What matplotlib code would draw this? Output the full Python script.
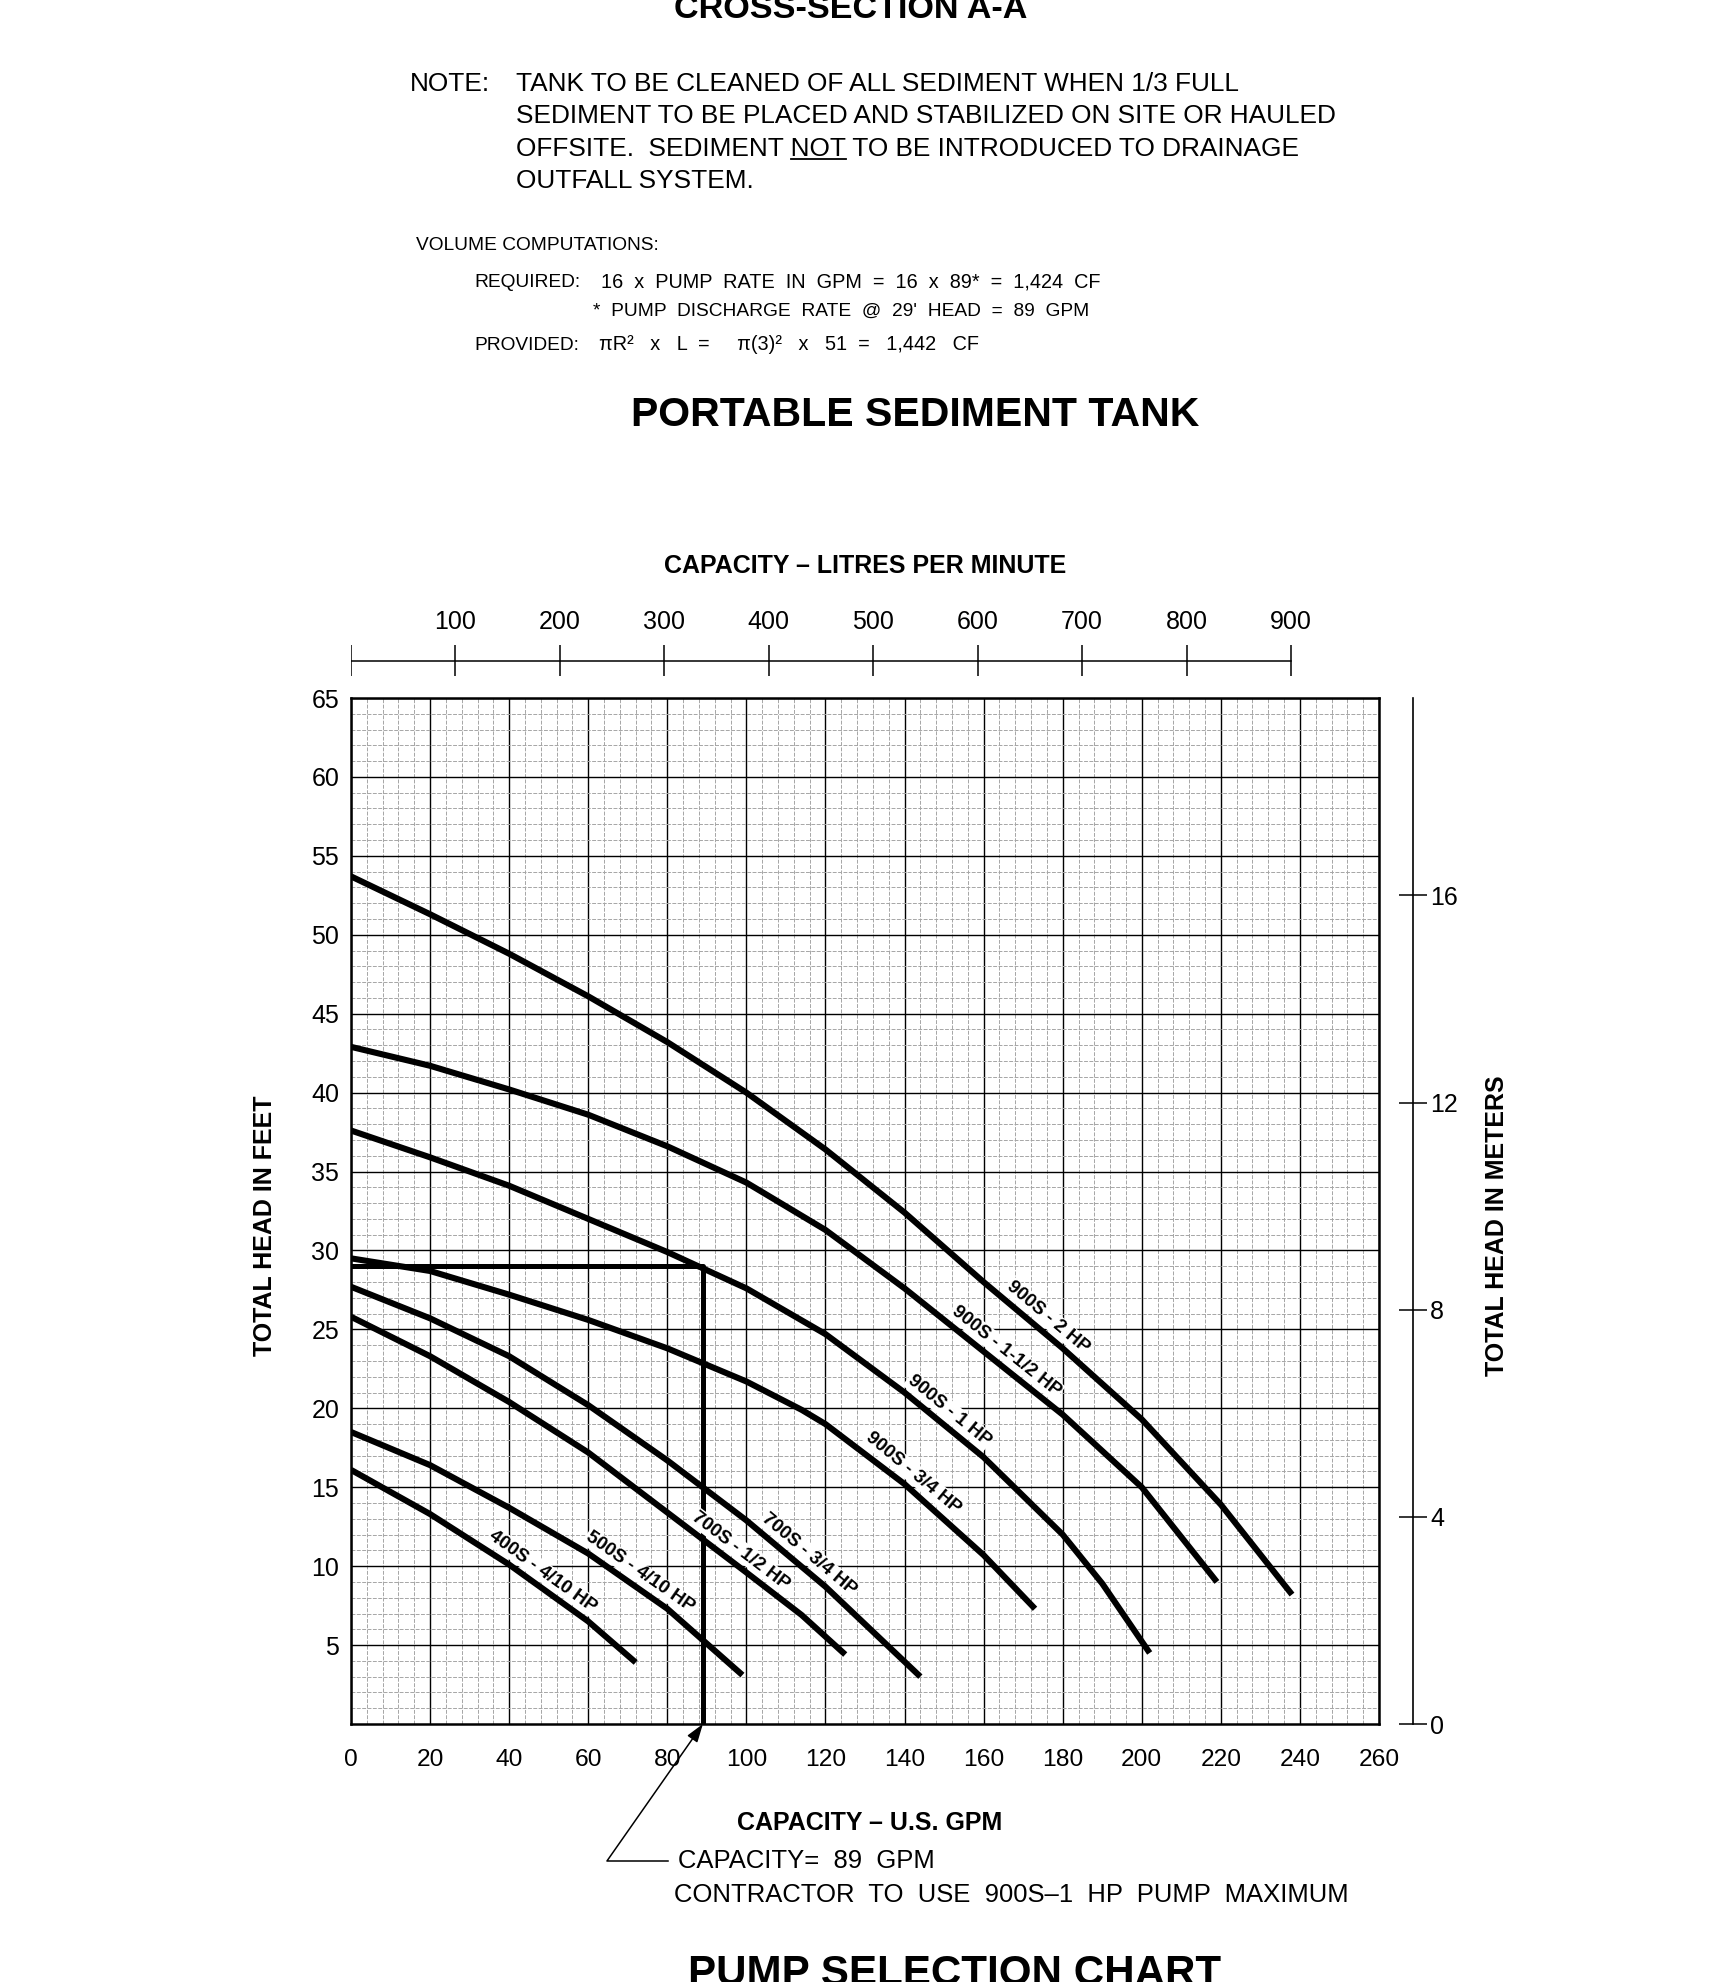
import numpy as np
import matplotlib
matplotlib.use("Agg")
import matplotlib.pyplot as plt
from matplotlib import font_manager
from matplotlib.lines import Line2D

# Pump curves: capacity (US GPM) vs total head (ft)
gpm_900s_2hp = [0, 20, 40, 60, 80, 100, 120, 140, 160, 180, 200, 220, 238]
head_900s_2hp = [53.7, 51.3, 48.8, 46.1, 43.2, 40.0, 36.4, 32.4, 28.0, 23.8, 19.3, 13.9, 8.2]

gpm_900s_1half = [0, 20, 40, 60, 80, 100, 120, 140, 160, 180, 200, 219]
head_900s_1half = [42.9, 41.7, 40.2, 38.6, 36.6, 34.3, 31.3, 27.6, 23.6, 19.6, 15.0, 9.0]

gpm_900s_1hp = [0, 20, 40, 60, 80, 100, 120, 140, 160, 180, 190, 202]
head_900s_1hp = [37.6, 35.9, 34.1, 32.0, 29.9, 27.6, 24.7, 21.0, 16.9, 12.0, 8.9, 4.5]

gpm_900s_34 = [0, 20, 40, 60, 80, 100, 114, 120, 140, 160, 173]
head_900s_34 = [29.5, 28.7, 27.2, 25.6, 23.8, 21.7, 19.9, 19.0, 15.2, 10.7, 7.3]

gpm_700s_34 = [0, 20, 40, 60, 80, 100, 120, 144]
head_700s_34 = [27.7, 25.7, 23.3, 20.2, 16.7, 12.9, 8.7, 3.0]

gpm_700s_12 = [0, 20, 40, 60, 80, 100, 114, 125]
head_700s_12 = [25.8, 23.3, 20.4, 17.2, 13.4, 9.6, 6.9, 4.4]

gpm_500s = [0, 20, 40, 60, 80, 99]
head_500s = [18.5, 16.4, 13.7, 10.8, 7.3, 3.1]

gpm_400s = [0, 20, 40, 60, 72]
head_400s = [16.1, 13.3, 10.1, 6.5, 3.9]

curve_names = ['900S - 2 HP', '900S - 1-1/2 HP', '900S - 1 HP', '900S - 3/4 HP',
               '700S - 3/4 HP', '700S - 1/2 HP', '500S - 4/10 HP', '400S - 4/10 HP']
label_gpm = [174, 163.5, 149, 140, 113.5, 96.5, 71, 46.5]

design_gpm = 89
design_head = 29

gpm_ticks = [0, 20, 40, 60, 80, 100, 120, 140, 160, 180, 200, 220, 240, 260]
feet_ticks = [5, 10, 15, 20, 25, 30, 35, 40, 45, 50, 55, 60, 65]
metre_ticks = [0, 4, 8, 12, 16]
litre_ticks = [0, 100, 200, 300, 400, 500, 600, 700, 800, 900]

LITRES_PER_GAL = 3.78541
FEET_PER_METRE = 3.28084

note_lines = ['TANK TO BE CLEANED OF ALL SEDIMENT WHEN 1/3 FULL',
              'SEDIMENT TO BE PLACED AND STABILIZED ON SITE OR HAULED',
              'OFFSITE.  SEDIMENT NOT TO BE INTRODUCED TO DRAINAGE',
              'OUTFALL SYSTEM.']

# narrow CAD-like lettering if the narrow face is there, else scale Liberation down
try:
    font_manager.findfont(font_manager.FontProperties(family='Liberation Sans Narrow'),
                          fallback_to_default=False)
    NARROW, K = 'Liberation Sans Narrow', 1.0
except ValueError:
    NARROW, K = 'Liberation Sans', 0.82
plt.rcParams['font.family'] = [NARROW, 'DejaVu Sans']

W, H = 1729, 1982
fx = lambda px: px / W
fy = lambda py: 1 - py / H

fig = plt.figure(figsize=(W / 100, H / 100), dpi=100)

# ---- header text
fig.text(fx(851), fy(18), 'CROSS-SECTION A-A', ha='center', va='baseline', fontsize=30 * K, weight='bold')
fig.text(fx(410), fy(91), 'NOTE:', va='baseline', fontsize=23 * K)
note_base = [91, 123, 156, 188]
for txt, yb in zip(note_lines, note_base):
    fig.text(fx(516), fy(yb), txt, va='baseline', fontsize=23 * K)

fig.text(fx(416), fy(250), 'VOLUME COMPUTATIONS:', va='baseline', fontsize=16.8 * K)
fig.text(fx(474), fy(287), 'REQUIRED:', va='baseline', fontsize=16.8 * K)
fig.text(fx(601), fy(287), '16  x  PUMP  RATE  IN  GPM  =  16  x  89*  =  1,424  CF',
         va='baseline', fontsize=17.5 * K)
fig.text(fx(593), fy(316), "*  PUMP  DISCHARGE  RATE  @  29'  HEAD  =  89  GPM",
         va='baseline', fontsize=16.8 * K)
fig.text(fx(474), fy(350), 'PROVIDED:', va='baseline', fontsize=16.8 * K)
fig.text(fx(599), fy(350), 'πR²   x   L  =     π(3)²   x   51  =   1,442   CF',
         va='baseline', fontsize=17.5 * K)

fig.text(fx(915), fy(426), 'PORTABLE SEDIMENT TANK', ha='center', va='baseline', fontsize=36 * K, weight='bold')

# underline under "NOT"
r = fig.canvas.get_renderer()
probe = fig.text(fx(516), fy(156), 'OFFSITE.  SEDIMENT NOT', va='baseline', fontsize=23 * K)
probe_word = fig.text(0, 0, 'NOT', fontsize=23 * K)
b_all = probe.get_window_extent(r)
b_word = probe_word.get_window_extent(r)
probe.remove()
probe_word.remove()
inv = fig.transFigure.inverted()
ux0 = inv.transform((b_all.x1 - b_word.width, 0))[0]
ux1 = inv.transform((b_all.x1, 0))[0]
fig.add_artist(Line2D([ux0, ux1], [fy(159), fy(159)], color='black', lw=1.3))

# ---- main chart
ax = fig.add_axes([fx(351), fy(1724), fx(1379) - fx(351), fy(698) - fy(1724)])
ax.set_xlim(0, 260)
ax.set_ylim(0, 65)
ax.set_xticks(gpm_ticks)
ax.set_yticks(feet_ticks)
ax.set_xticks(np.arange(0, 261, 4), minor=True)
ax.set_yticks(np.arange(0, 66, 1), minor=True)
ax.grid(which='minor', color='0.65', lw=0.7, ls=(0, (4, 1.5)))
ax.grid(which='major', color='black', lw=1.0)
ax.set_axisbelow(True)
ax.tick_params(which='both', length=0)
ax.tick_params(axis='x', pad=18, labelsize=21.5 * K)
ax.tick_params(axis='y', pad=8.5, labelsize=22 * K)
for sp in ax.spines.values():
    sp.set_linewidth(1.8)

curves = [(gpm_900s_2hp, head_900s_2hp), (gpm_900s_1half, head_900s_1half),
          (gpm_900s_1hp, head_900s_1hp), (gpm_900s_34, head_900s_34),
          (gpm_700s_34, head_700s_34), (gpm_700s_12, head_700s_12),
          (gpm_500s, head_500s), (gpm_400s, head_400s)]
for g, h in curves:
    ax.plot(g, h, color='black', lw=4.4, solid_capstyle='butt', solid_joinstyle='round', zorder=3)

# selection lines at 29 ft / 89 GPM
ax.plot([0, design_gpm, design_gpm], [design_head, design_head, 0], color='black', lw=3.6,
        solid_capstyle='butt', zorder=3, clip_on=False)

# labels along the curves
for (g, h), name, lx in zip(curves, curve_names, label_gpm):
    ly = np.interp(lx, g, h)
    p0 = ax.transData.transform((lx - 4, np.interp(lx - 4, g, h)))
    p1 = ax.transData.transform((lx + 4, np.interp(lx + 4, g, h)))
    ang = np.degrees(np.arctan2(p1[1] - p0[1], p1[0] - p0[0]))
    nrm = np.array([-np.sin(np.radians(ang)), np.cos(np.radians(ang))])
    c = ax.transData.transform((lx, ly)) + 14 * nrm
    tx, ty = ax.transData.inverted().transform(c)
    ax.text(tx, ty, name, rotation=ang, rotation_mode='anchor', ha='center', va='center',
            fontsize=13.5, weight='bold', family='Liberation Sans', zorder=4,
            bbox=dict(facecolor='white', edgecolor='none', pad=1.0))

ax.annotate('CAPACITY=  89  GPM', xy=(design_gpm, 0), xycoords='data',
            xytext=(fx(678), fy(1868)), textcoords='figure fraction',
            ha='left', va='baseline', fontsize=22.5 * K, annotation_clip=False,
            arrowprops=dict(arrowstyle='-|>,head_length=0.6,head_width=0.2', lw=1.1, color='black',
                            connectionstyle='angle,angleA=180,angleB=55', shrinkA=5, shrinkB=0,
                            relpos=(0, 0.5)))
fig.text(fx(674), fy(1902), 'CONTRACTOR  TO  USE  900S–1  HP  PUMP  MAXIMUM', va='baseline', fontsize=22.5 * K)

# right-hand metre scale
axm = ax.twinx()
axm.set_ylim(0, 65 / FEET_PER_METRE)
for s in ['left', 'top', 'bottom']:
    axm.spines[s].set_visible(False)
axm.spines['right'].set_position(('outward', 24.5))
axm.spines['right'].set_linewidth(1.2)
axm.set_yticks(metre_ticks)
axm.tick_params(axis='y', direction='inout', length=20, width=1.1, pad=2.2, labelsize=22 * K)

# top litre scale
axl = fig.add_axes([fx(351), fy(676), fx(1379) - fx(351), 31 / H])
axl.set_xlim(0, 260 * LITRES_PER_GAL)
axl.set_ylim(-1, 1)
axl.axis('off')
axl.plot([litre_ticks[0], litre_ticks[-1]], [0, 0], color='black', lw=1.1)
axl.vlines(litre_ticks, -1, 1, color='black', lw=1.1)
for lt in litre_ticks[1:]:
    axl.annotate(str(lt), (lt, 1), xytext=(0, 8), textcoords='offset points',
                 ha='center', va='bottom', fontsize=22 * K)

# axis titles
fig.text(fx(865), fy(573), 'CAPACITY – LITRES PER MINUTE', ha='center', va='baseline', fontsize=22 * K, weight='bold')
fig.text(fx(870), fy(1830), 'CAPACITY – U.S. GPM', ha='center', va='baseline', fontsize=22 * K, weight='bold')
fig.text(fx(265), fy(1226), 'TOTAL HEAD IN FEET', rotation=90, ha='center', va='center', fontsize=22 * K, weight='bold')
fig.text(fx(1497), fy(1226), 'TOTAL HEAD IN METERS', rotation=90, ha='center', va='center', fontsize=22 * K, weight='bold')

fig.text(fx(955), fy(1985), 'PUMP SELECTION CHART', ha='center', va='baseline', fontsize=37 * K, weight='bold')

fig.savefig('out.png', dpi=100, facecolor='white')
